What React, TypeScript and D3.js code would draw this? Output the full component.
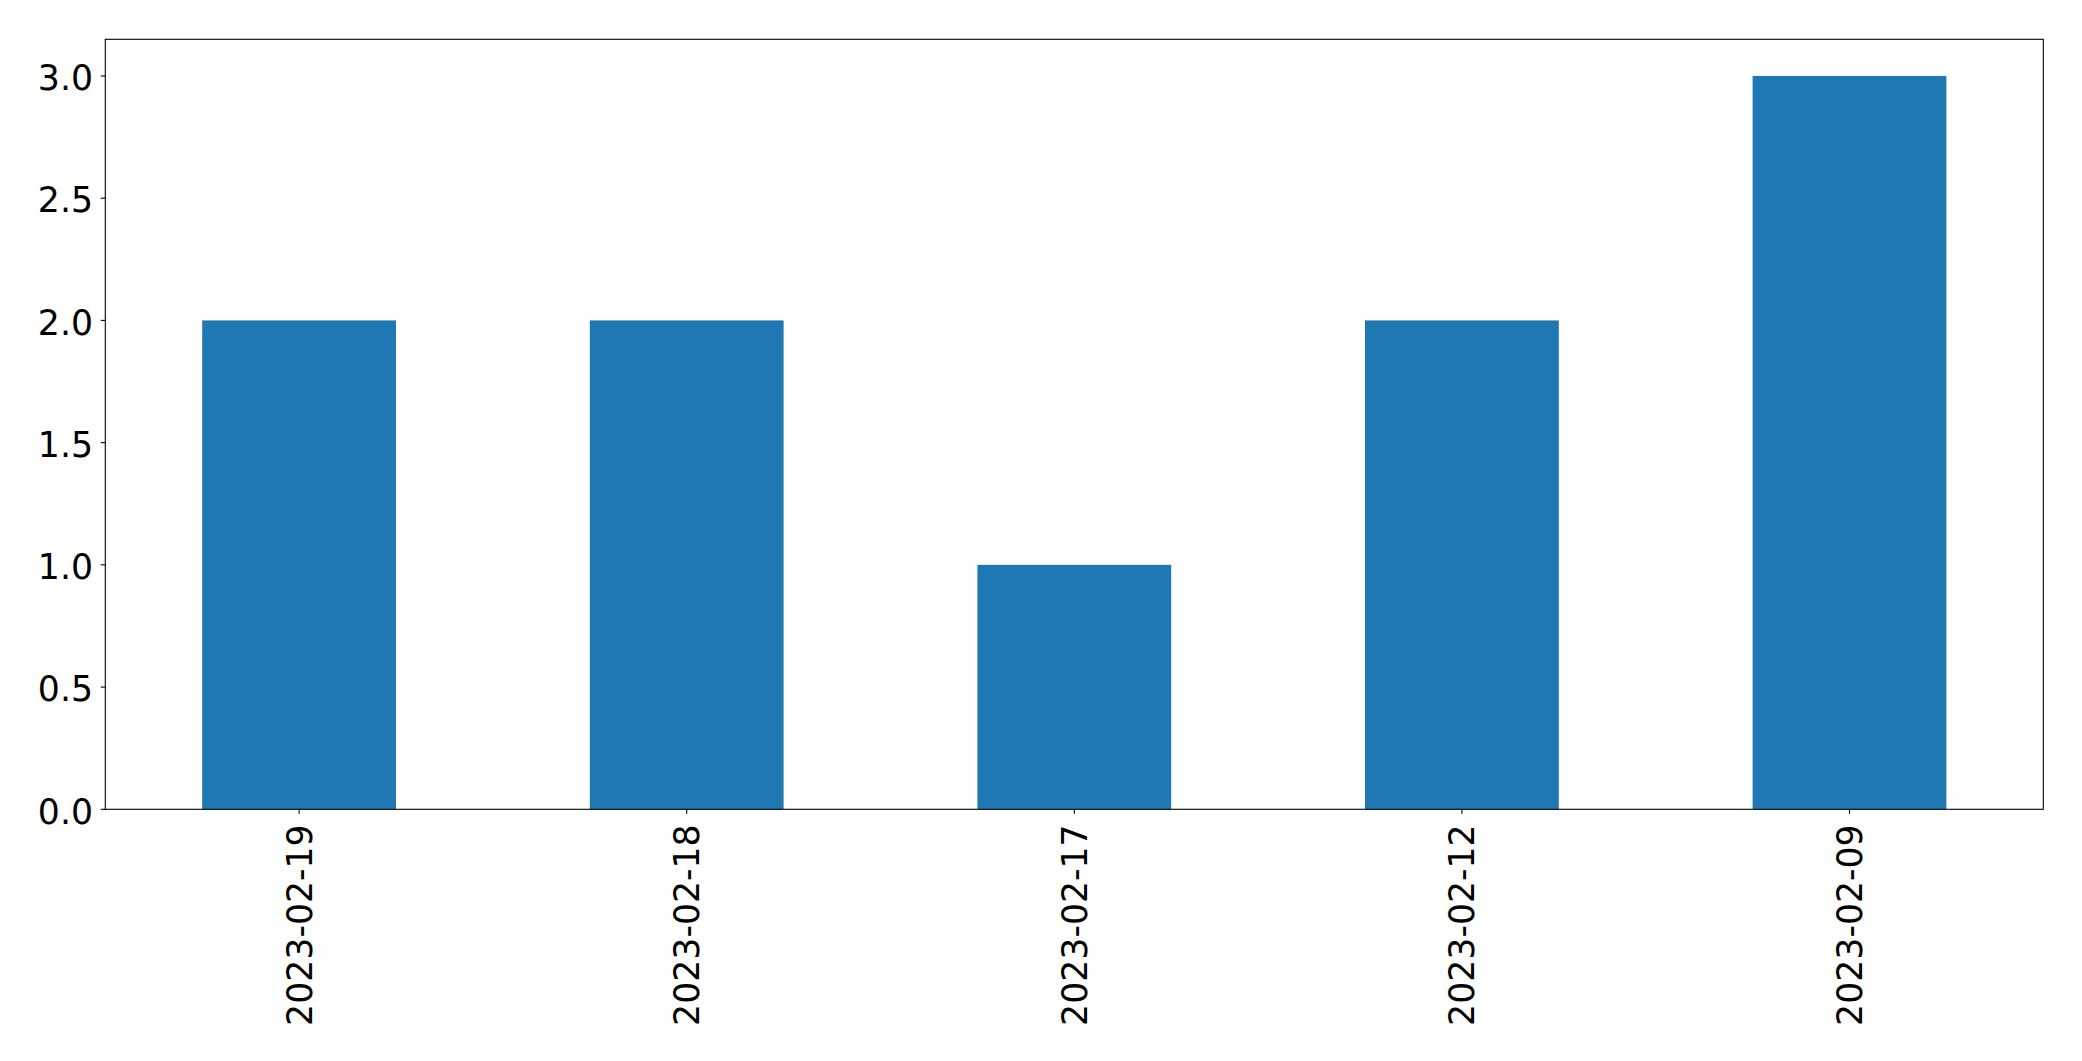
import React from "react";
import * as d3 from "d3";

const categories = ["2023-02-19", "2023-02-18", "2023-02-17", "2023-02-12", "2023-02-09"];
const values = [2, 2, 1, 2, 3];
const yTicks = [0, 0.5, 1.0, 1.5, 2.0, 2.5, 3.0];

const W = 2082;
const H = 1061;
const left = 105.3;
const right = 2043.3;
const top = 39.3;
const bottom = 809.3;

export default function App() {
  const idx = categories.map((_, i) => i);
  const x = d3.scaleLinear().domain([-0.5, categories.length - 0.5]).range([left, right]);
  const y = d3.scaleLinear().domain([0, 3.15]).range([bottom, top]);
  const barW = x(0.5) - x(0);
  const font = "'DejaVu Sans', sans-serif";
  const fs = 34.7;
  return (
    <svg width={W} height={H} style={{ position: "absolute", left: 0, top: 0, background: "#fff" }}>
      <rect x={0} y={0} width={W} height={H} fill="#fff" />
      {idx.map((i) => (
        <rect key={i} x={x(i) - barW / 2} y={y(values[i])} width={barW} height={y(0) - y(values[i])} fill="#1f77b4" />
      ))}
      <rect x={left} y={top} width={right - left} height={bottom - top} fill="none" stroke="#000" strokeWidth={1.1} />
      {yTicks.map((t) => (
        <g key={t}>
          <line x1={left - 4.5} x2={left} y1={y(t)} y2={y(t)} stroke="#000" strokeWidth={1.1} />
          <text x={93} y={y(t)} dy="0.41em" textAnchor="end" fontFamily={font} fontSize={fs} fill="#000">
            {d3.format(".1f")(t)}
          </text>
        </g>
      ))}
      {idx.map((i) => (
        <g key={i}>
          <line x1={x(i)} x2={x(i)} y1={bottom} y2={bottom + 4.5} stroke="#000" strokeWidth={1.1} />
          <text
            transform={`translate(${x(i)},${bottom + 15}) rotate(-90)`}
            dy="0.36em"
            textAnchor="end"
            fontFamily={font}
            fontSize={fs}
            fill="#000"
          >
            {categories[i]}
          </text>
        </g>
      ))}
    </svg>
  );
}
